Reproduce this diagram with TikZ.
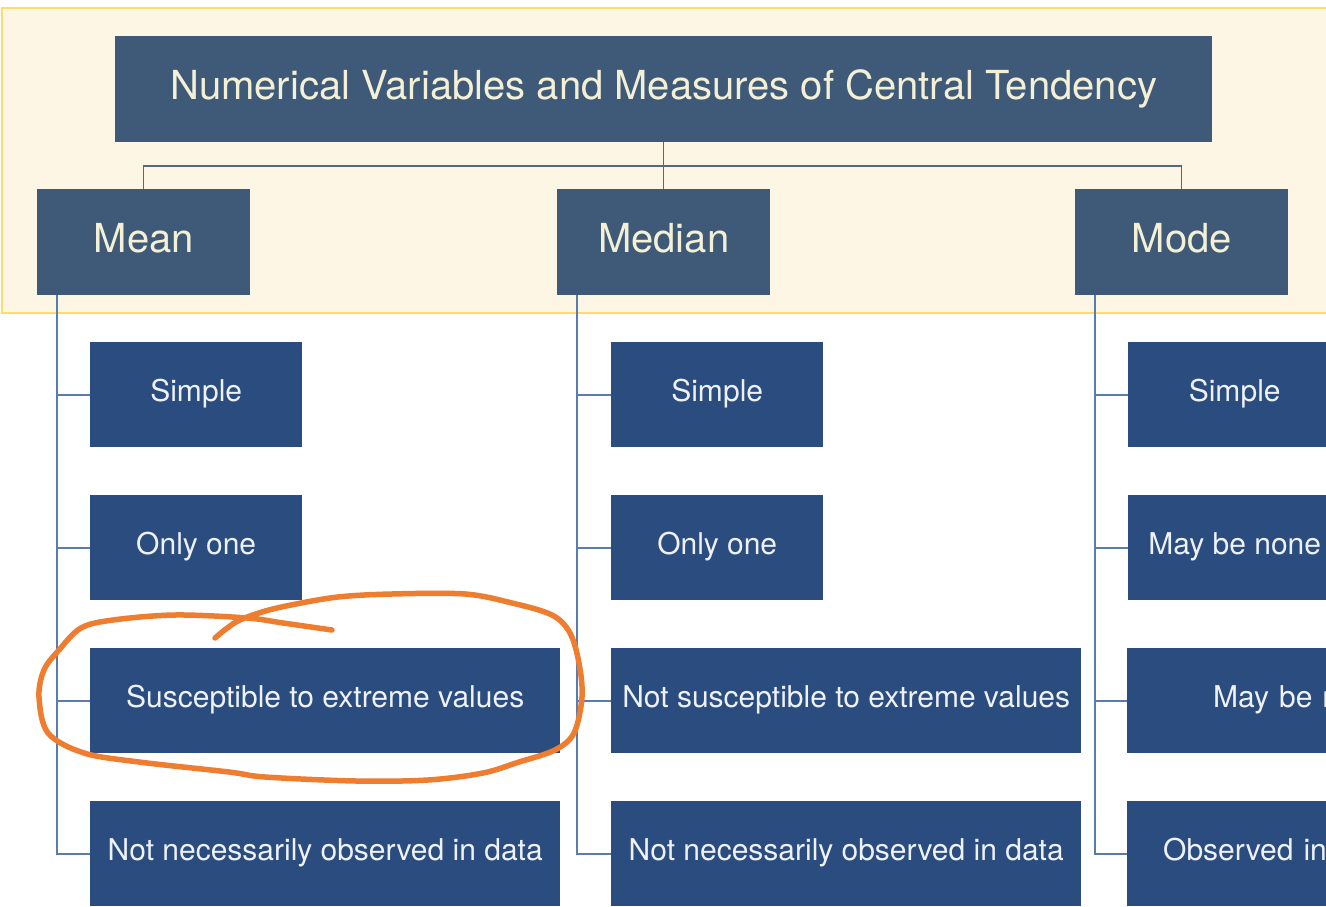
\documentclass[tikz,border=0pt]{standalone}
\usepackage{fontspec}
\setmainfont{TeX Gyre Heros}
\definecolor{panelfill}{HTML}{FDF6E4}
\definecolor{panelline}{HTML}{FFDA70}
\definecolor{hdrc}{HTML}{3E5A78}
\definecolor{subc}{HTML}{2A4C7E}
\definecolor{hdrtxt}{HTML}{F4F0D6}
\definecolor{subtxt}{HTML}{EEF2F8}
\definecolor{busc}{HTML}{4B6A8C}
\definecolor{treec}{HTML}{5A7BAE}
\definecolor{annotc}{HTML}{EE7D30}
\begin{document}
\begin{tikzpicture}[x=1pt,y=-1pt,
  panel/.style={draw=panelline, fill=panelfill, line width=2.5pt},
  hdr/.style={fill=hdrc, text=hdrtxt, anchor=north west, inner sep=0pt,
    minimum height=106pt, font=\fontsize{40}{48}\selectfont,
    text height=28pt, text depth=8.2pt},
  sub/.style={fill=subc, text=subtxt, anchor=north west, inner sep=0pt,
    minimum height=105pt, font=\fontsize{30}{36}\selectfont,
    text height=21pt, text depth=7.4pt},
  bus/.style={draw=busc, line width=1.5pt},
  tree/.style={draw=treec, line width=1.6pt},
  annot/.style={draw=annotc, line width=5.5pt, line cap=round, line join=round}]
\useasboundingbox (0,0) rectangle (1326,907);
\clip (0,0) rectangle (1326,907);
\draw[panel] (2,8) rectangle (1345,313);
% headers
\node[hdr, minimum width=1097pt] (title) at (115,36) {Numerical Variables and Measures of Central Tendency};
\node[hdr, minimum width=213pt] (mean) at (37,189) {Mean};
\node[hdr, minimum width=213pt] (median) at (557,189) {Median};
\node[hdr, minimum width=213pt] (mode) at (1075,189) {Mode};
% column 1
\node[sub, minimum width=212pt] (a1) at (90,342) {Simple};
\node[sub, minimum width=212pt] (a2) at (90,495) {Only one};
\node[sub, minimum width=470pt] (a3) at (90,648) {Susceptible to extreme values};
\node[sub, minimum width=470pt] (a4) at (90,801) {Not necessarily observed in data};
% column 2
\node[sub, minimum width=212pt] (b1) at (611,342) {Simple};
\node[sub, minimum width=212pt] (b2) at (611,495) {Only one};
\node[sub, minimum width=470pt] (b3) at (611,648) {Not susceptible to extreme values};
\node[sub, minimum width=470pt] (b4) at (611,801) {Not necessarily observed in data};
% column 3
\node[sub, minimum width=213pt] (c1) at (1128,342) {Simple};
\node[sub, minimum width=213pt] (c2) at (1128,495) {May be none};
\node[sub, text width=320pt, align=left, inner xsep=86pt] (c3) at (1127,648) {May be more than one};
\node[sub, text width=320pt, align=left, inner xsep=36pt] (c4) at (1127,801) {Observed in data};
% top bus
\coordinate (busy) at (0,166);
\draw[bus] (title.south) -- (median.north);
\draw[bus] (mean.north) -- (mean.north |- busy) -- (mode.north |- busy) -- (mode.north);
% trunks
\coordinate (t1) at ([xshift=20pt]mean.south west);
\coordinate (t2) at ([xshift=20pt]median.south west);
\coordinate (t3) at ([xshift=20pt]mode.south west);
\draw[tree] (t1) |- (a4.west);
\draw[tree] (t1 |- a1.west) -- (a1.west);
\draw[tree] (t1 |- a2.west) -- (a2.west);
\draw[tree] (t1 |- a3.west) -- (a3.west);
\draw[tree] (t2) |- (b4.west);
\draw[tree] (t2 |- b1.west) -- (b1.west);
\draw[tree] (t2 |- b2.west) -- (b2.west);
\draw[tree] (t2 |- b3.west) -- (b3.west);
\draw[tree] (t3) |- (c4.west);
\draw[tree] (t3 |- c1.west) -- (c1.west);
\draw[tree] (t3 |- c2.west) -- (c2.west);
\draw[tree] (t3 |- c3.west) -- (c3.west);
% hand-drawn annotation
\draw[annot] plot[smooth, tension=0.55] coordinates {
 (215,638) (236,622) (262,612) (291,605) (338,597) (392,594) (465,594)
 (512,603) (552,615) (570,633) (579,663) (582,697) (574,733) (555,750)
 (519,762) (483,773) (428,780) (356,781) (265,777) (229,772) (139,762)
 (84,753) (48,733) (39,697) (44,670) (59,650) (81,628) (113,620)
 (175,615) (247,618) (283,623) (332,630)};
\end{tikzpicture}
\end{document}
